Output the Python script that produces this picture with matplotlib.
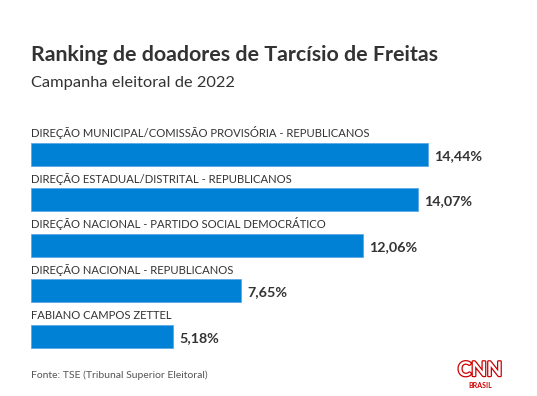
import matplotlib.pyplot as plt
import matplotlib.patheffects as pe

donors = ['DIREÇÃO MUNICIPAL/COMISSÃO PROVISÓRIA - REPUBLICANOS',
          'DIREÇÃO ESTADUAL/DISTRITAL - REPUBLICANOS',
          'DIREÇÃO NACIONAL - PARTIDO SOCIAL DEMOCRÁTICO',
          'DIREÇÃO NACIONAL - REPUBLICANOS',
          'FABIANO CAMPOS ZETTEL']
shares = [14.44, 14.07, 12.06, 7.65, 5.18]
share_labels = ['14,44%', '14,07%', '12,06%', '7,65%', '5,18%']

plt.rcParams['font.family'] = ['Lato', 'DejaVu Sans']
W, H = 537, 396
fig = plt.figure(figsize=(W / 100, H / 100), dpi=100)
fig.patch.set_facecolor('white')

# axes placed in pixel terms: x starts at 31px, 27.5px per percent, rows 45.5px apart
x0, px_per = 31, 27.5
xmax = 18
row = 45.5
top = 154.2 - row / 2
ax = fig.add_axes([x0 / W, 1 - (top + 5 * row) / H, xmax * px_per / W, 5 * row / H])
ax.set_xlim(0, xmax)
ax.set_ylim(4.5, -0.5)
ax.axis('off')

bar_h = 23 / row
pos = list(range(len(donors)))
ax.barh(pos, shares, height=bar_h, color='#0081d5', edgecolor='#5aa9e6', linewidth=0.6)
for i, (name, v, lab) in enumerate(zip(donors, shares, share_labels)):
    ax.annotate(name, (0, i - bar_h / 2), xytext=(0, 2.5), textcoords='offset points',
                ha='left', va='bottom', fontsize=8.15, color='#333333')
    ax.annotate(lab, (v, i), xytext=(4.5, -1), textcoords='offset points',
                ha='left', va='center', fontsize=10.3, fontweight='bold', color='#333333')

fig.text(x0 / W, 1 - 61 / H, 'Ranking de doadores de Tarcísio de Freitas',
         fontsize=15.4, fontweight='bold', color='#333333', ha='left', va='baseline')
fig.text(x0 / W, 1 - 87 / H, 'Campanha eleitoral de 2022',
         fontsize=11.8, color='#333333', ha='left', va='baseline')
fig.text(x0 / W, 1 - 378 / H, 'Fonte: TSE (Tribunal Superior Eleitoral)',
         fontsize=7.5, color='#555555', ha='left', va='baseline')

# CNN Brasil logo
fig.text(480 / W, 1 - 376 / H, 'CNN', fontsize=14.5, fontweight='bold', color='white',
         ha='center', va='baseline',
         path_effects=[pe.withStroke(linewidth=1.8, foreground='#cc0000')])
fig.text(480 / W, 1 - 388 / H, 'BRASIL', fontsize=5, fontweight='bold', color='#cc0000',
         ha='center', va='baseline')

fig.savefig('out.png', dpi=100, facecolor='white')
